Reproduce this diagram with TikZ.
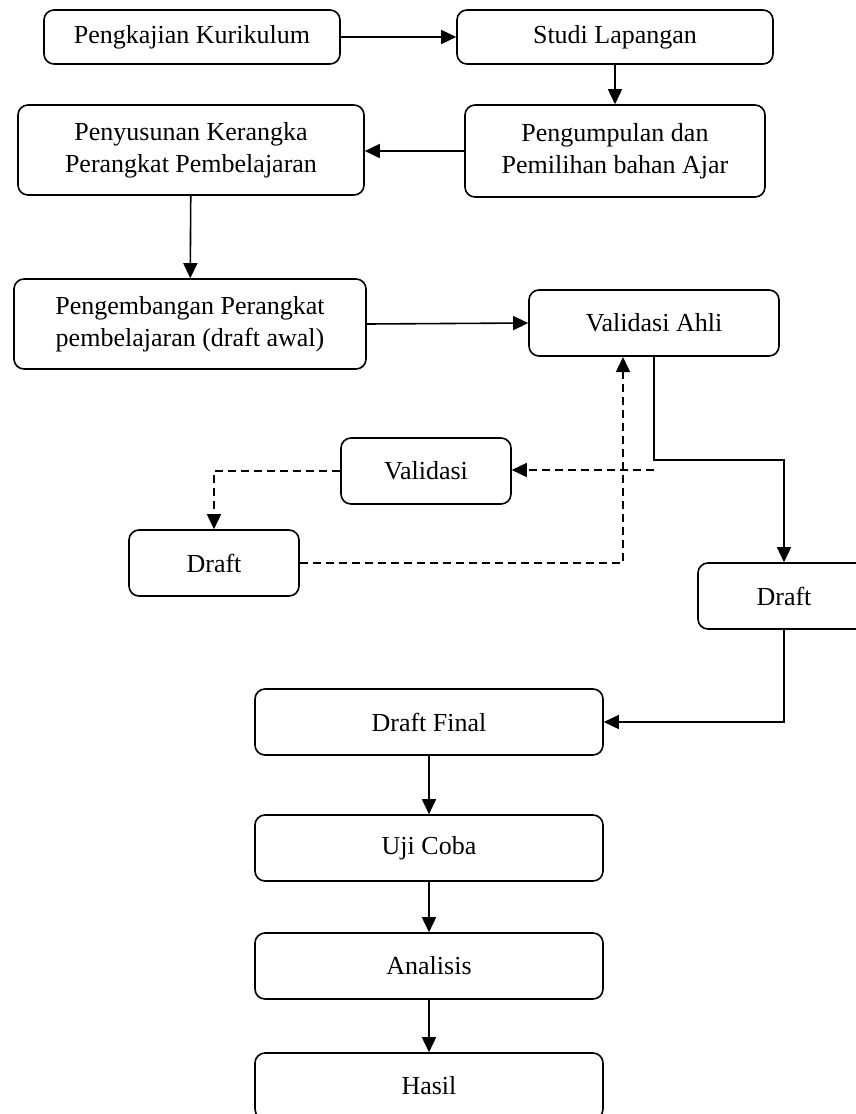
\documentclass[tikz,border=0pt]{standalone}
\usepackage{fontspec}
\setmainfont{Liberation Serif}
\usepackage{tikz}
\usetikzlibrary{arrows.meta,positioning,calc}
\tikzset{
  stagebox/.style={rectangle,rounded corners=5pt,draw=black,line width=0.8pt,
    fill=white,align=center,font=\fontsize{13}{16}\selectfont,inner sep=2pt},
  flowarr/.style={-{Triangle[length=7.5pt,width=7pt]},line width=0.8pt},
  dasharr/.style={-{Triangle[length=7.5pt,width=7pt]},line width=0.8pt,
    dash pattern=on 4pt off 2.5pt},
}

\begin{document}
\begin{tikzpicture}[x=0.5pt,y=-0.5pt]
  \useasboundingbox (0,0) rectangle (856,1114);

  \node[stagebox,minimum width=148pt,minimum height=27pt] (kaji) at (192,37) {Pengkajian Kurikulum};
  \node[stagebox,minimum width=158pt,minimum height=27pt] (studi) at (615,37) {Studi Lapangan};
  \node[stagebox,minimum width=150pt,minimum height=46pt] (kumpul) at (615,151) {Pengumpulan dan\\Pemilihan bahan Ajar};
  \node[stagebox,minimum width=173pt,minimum height=45pt] (susun) at (191,150) {Penyusunan Kerangka\\Perangkat Pembelajaran};
  \node[stagebox,minimum width=176pt,minimum height=45pt] (kembang) at (190,324) {Pengembangan Perangkat\\pembelajaran (draft awal)};
  \node[stagebox,minimum width=125pt,minimum height=33pt] (ahli) at (654,323) {Validasi Ahli};
  \node[stagebox,minimum width=85pt,minimum height=33pt] (valid) at (426,471) {Validasi};
  \node[stagebox,minimum width=85pt,minimum height=33pt] (draftl) at (214,563) {Draft};
  \node[stagebox,minimum width=86pt,minimum height=33pt] (draftr) at (784,596) {Draft};
  \node[stagebox,minimum width=174pt,minimum height=33pt] (final) at (429,722) {Draft Final};
  \node[stagebox,minimum width=174pt,minimum height=33pt] (uji) at (429,848) {Uji Coba};
  \node[stagebox,minimum width=174pt,minimum height=33pt] (analisis) at (429,966) {Analisis};
  \node[stagebox,minimum width=174pt,minimum height=33pt] (hasil) at (429,1086) {Hasil};

  \coordinate (split) at (654,470);
  \coordinate (back) at (623,357);

  \draw[flowarr] (kaji) -- (studi);
  \draw[flowarr] (studi) -- (kumpul);
  \draw[flowarr] (kumpul.west) -- (kumpul.west -| susun.east);
  \draw[flowarr] (susun) -- (kembang);
  \draw[flowarr] (kembang.east) -- (ahli.west);
  \draw[flowarr] (ahli.south) -- ++(0,103) -| (draftr.north);
  \draw[dasharr] (split) -- (split -| valid.east);
  \draw[dasharr] (valid.west) -| (draftl.north);
  \draw[dasharr] (draftl.east) -| (back);
  \draw[flowarr] (draftr.south) |- (final.east);
  \draw[flowarr] (final) -- (uji);
  \draw[flowarr] (uji) -- (analisis);
  \draw[flowarr] (analisis) -- (hasil);
\end{tikzpicture}
\end{document}
